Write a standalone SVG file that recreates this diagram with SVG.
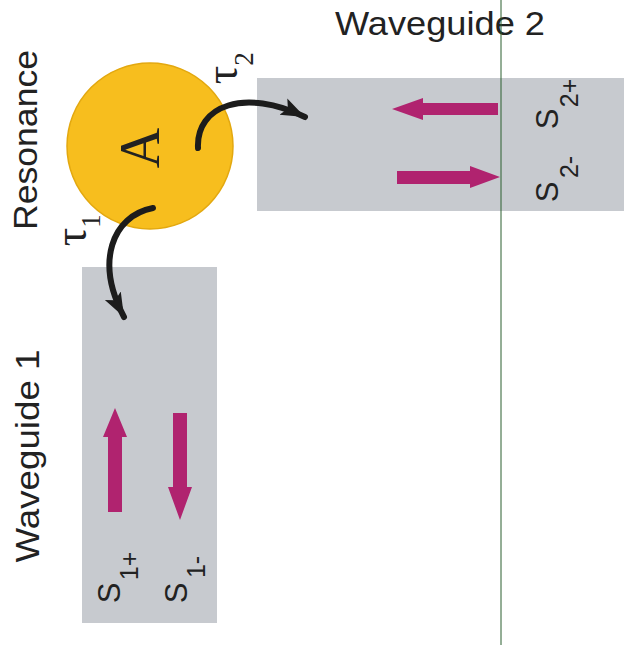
<svg xmlns="http://www.w3.org/2000/svg" width="624" height="645" viewBox="0 0 624 645">
<style>
.lbl{font-family:"Liberation Sans",Arial,sans-serif;fill:#222;}
.big{font-size:34px;}
.s{font-size:31px;}
.sub{font-size:25px;}
.tau{font-family:"Liberation Serif","DejaVu Serif",serif;font-size:46px;fill:#222;}
.tsub{font-family:"Liberation Serif","DejaVu Serif",serif;font-size:27px;fill:#222;}
.wg{fill:#C7CACF;}
.mag{fill:#B0236F;}
.conn{fill:none;stroke:#1c1c1c;stroke-width:6;stroke-linecap:round;}
</style>
<defs>
<marker id="head" markerUnits="userSpaceOnUse" markerWidth="26" markerHeight="22" viewBox="0 0 26 22" refX="24" refY="11" orient="auto">
<path d="M0,2 L24,11 L0,20 L5,11 z" fill="#1c1c1c"/>
</marker>
</defs>
<rect width="624" height="645" fill="#fff"/>

<g id="waveguide2">
<rect class="wg" x="257" y="78" width="367" height="133"/>
<polygon class="mag" points="392,109 423,98 423,103 498,103 498,115 423,115 423,120"/>
<polygon class="mag" points="397,171 470,171 470,166 500,177 470,188 470,184 397,184"/>
<text class="lbl big" x="440" y="35" text-anchor="middle" textLength="210" lengthAdjust="spacingAndGlyphs">Waveguide 2</text>
<text class="lbl s" transform="translate(558,119) rotate(-90)" text-anchor="middle">S</text>
<text class="lbl sub" transform="translate(578,93) rotate(-90)" text-anchor="middle">2+</text>
<text class="lbl s" transform="translate(558,192) rotate(-90)" text-anchor="middle">S</text>
<text class="lbl sub" transform="translate(578,167) rotate(-90)" text-anchor="middle">2-</text>
</g>

<g id="waveguide1">
<rect class="wg" x="82" y="267" width="135" height="356"/>
<polygon class="mag" points="115,408 127,437 122,437 122,512 108,512 108,437 103,437"/>
<polygon class="mag" points="173,413 187,413 187,487 192,487 180,520 168,487 173,487"/>
<text class="lbl big" transform="translate(39,456) rotate(-90)" text-anchor="middle" textLength="213" lengthAdjust="spacingAndGlyphs">Waveguide 1</text>
<text class="lbl s" transform="translate(120,593) rotate(-90)" text-anchor="middle">S</text>
<text class="lbl sub" transform="translate(138,566) rotate(-90)" text-anchor="middle">1+</text>
<text class="lbl s" transform="translate(187,593) rotate(-90)" text-anchor="middle">S</text>
<text class="lbl sub" transform="translate(205,567) rotate(-90)" text-anchor="middle">1-</text>
</g>

<g id="resonance">
<circle cx="150" cy="146" r="83" fill="#F7BE1E" stroke="#E3A80F" stroke-width="1.5"/>
<text transform="translate(159,148) rotate(-90)" text-anchor="middle" font-family="Liberation Serif,serif" font-size="56" fill="#222">A</text>
<text class="lbl big" transform="translate(37,140) rotate(-90)" text-anchor="middle" textLength="180" lengthAdjust="spacingAndGlyphs">Resonance</text>
</g>

<g id="connectors">
<path class="conn" d="M198,148 C196,105 245,88 305,117" marker-end="url(#head)"/>
<path class="conn" d="M153,208 C112,216 95,262 124,317" marker-end="url(#head)"/>
<text class="tau" transform="translate(86,237) rotate(-90)" text-anchor="middle">τ</text>
<text class="tsub" transform="translate(100,221) rotate(-90)" text-anchor="middle">1</text>
<text class="tau" transform="translate(237,75) rotate(-90)" text-anchor="middle">τ</text>
<text class="tsub" transform="translate(253,59) rotate(-90)" text-anchor="middle">2</text>
</g>

<line x1="501" y1="0" x2="501" y2="645" stroke="#2A5E2E" stroke-width="1"/>
</svg>
